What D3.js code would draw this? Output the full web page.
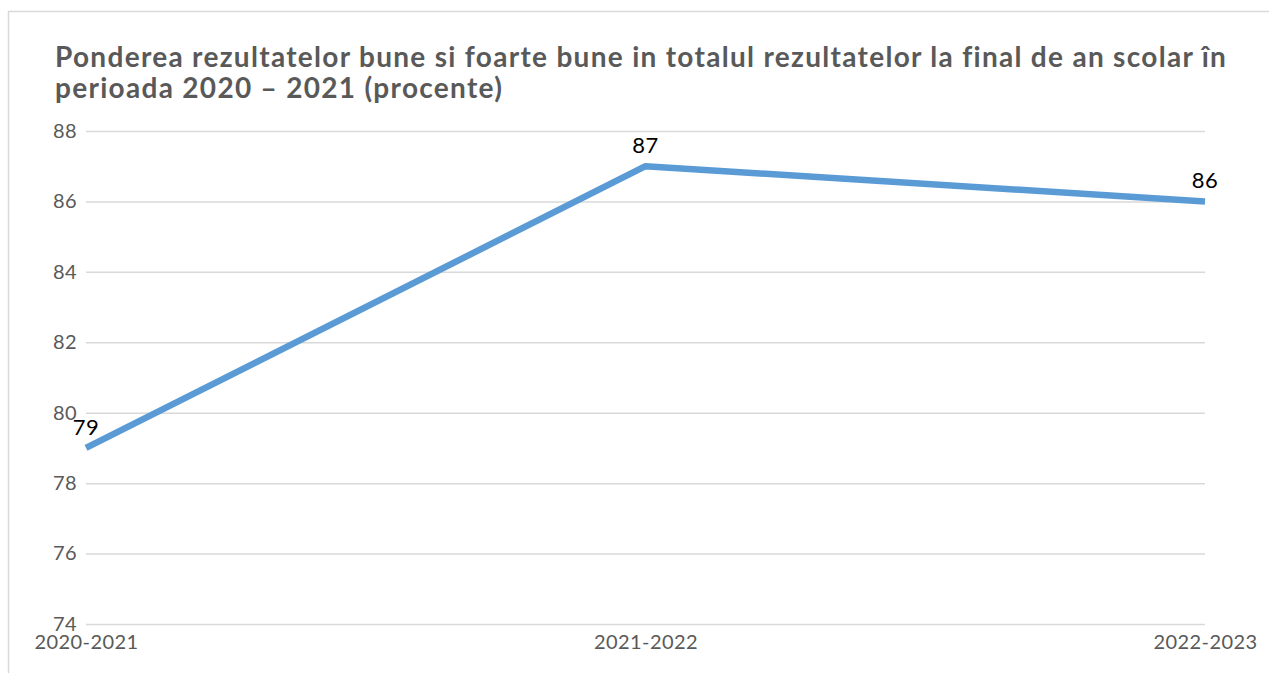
<!DOCTYPE html>
<html>
<head>
<meta charset="utf-8">
<script src="https://cdn.jsdelivr.net/npm/d3@7"></script>
<style>
  html, body { margin: 0; padding: 0; background: #fff; }
  svg { display: block; font-family: Lato, "Open Sans", sans-serif; }
</style>
</head>
<body>
<div id="chart"></div>
<script>
// chart data
const titleLines = [
  "Ponderea rezultatelor bune si foarte bune in totalul rezultatelor la final de an scolar în",
  "perioada 2020 – 2021 (procente)"
];
const categories = ["2020-2021", "2021-2022", "2022-2023"];
const values = [79, 87, 86];
const yTicks = [74, 76, 78, 80, 82, 84, 86, 88];

const width = 1269, height = 673;
const margin = { left: 86, right: 64, top: 131, bottom: 49 };

const svg = d3.select("#chart").append("svg")
  .attr("width", width)
  .attr("height", height);

// chart frame (runs off the right and bottom edges)
svg.append("rect")
  .attr("x", 8.5).attr("y", 11.5)
  .attr("width", 1400).attr("height", 800)
  .attr("fill", "#fff")
  .attr("stroke", "#d9d9d9")
  .attr("stroke-width", 1.5);

// title
svg.append("text")
  .attr("fill", "#595959")
  .style("font-size", "28px")
  .style("font-weight", "bold")
  .style("letter-spacing", "1.3px")
  .selectAll("tspan")
  .data(titleLines)
  .enter().append("tspan")
  .attr("x", 55)
  .attr("y", (d, i) => 67 + i * 31)
  .text(d => d);

const x = d3.scalePoint()
  .domain(categories)
  .range([margin.left, width - margin.right]);

const y = d3.scaleLinear()
  .domain([74, 88])
  .range([height - margin.bottom, margin.top]);

// gridlines + y labels
const yAxis = svg.append("g")
  .attr("transform", `translate(${margin.left},0)`)
  .call(d3.axisLeft(y)
    .tickValues(yTicks)
    .tickSize(-(width - margin.right - margin.left))
    .tickPadding(9)
    .tickFormat(d3.format("d")));

yAxis.select(".domain").remove();
yAxis.selectAll(".tick line")
  .attr("stroke", "#d9d9d9")
  .attr("stroke-width", 1.5);
yAxis.selectAll(".tick text")
  .attr("fill", "#595959")
  .style("font-size", "20px")
  .style("letter-spacing", "0.4px")
  .style("font-family", "Lato, sans-serif");

// x labels
const xAxis = svg.append("g")
  .attr("transform", `translate(0,${height - margin.bottom})`)
  .call(d3.axisBottom(x).tickSize(0).tickPadding(11));

xAxis.select(".domain").remove();
xAxis.selectAll(".tick text")
  .attr("fill", "#595959")
  .style("font-size", "20px")
  .style("letter-spacing", "0.4px")
  .style("font-family", "Lato, sans-serif");

// line
const pts = categories.map((c, i) => ({ cat: c, val: values[i] }));

svg.append("path")
  .datum(pts)
  .attr("fill", "none")
  .attr("stroke", "#5b9bd5")
  .attr("stroke-width", 6.5)
  .attr("stroke-linejoin", "round")
  .attr("d", d3.line().x(d => x(d.cat)).y(d => y(d.val)));

// data labels
svg.append("g")
  .selectAll("text")
  .data(pts)
  .enter().append("text")
  .attr("x", d => x(d.cat))
  .attr("y", d => y(d.val) - 13)
  .attr("text-anchor", "middle")
  .attr("fill", "#000")
  .style("font-size", "22px")
  .style("letter-spacing", "0.4px")
  .text(d => d.val);
</script>
</body>
</html>
